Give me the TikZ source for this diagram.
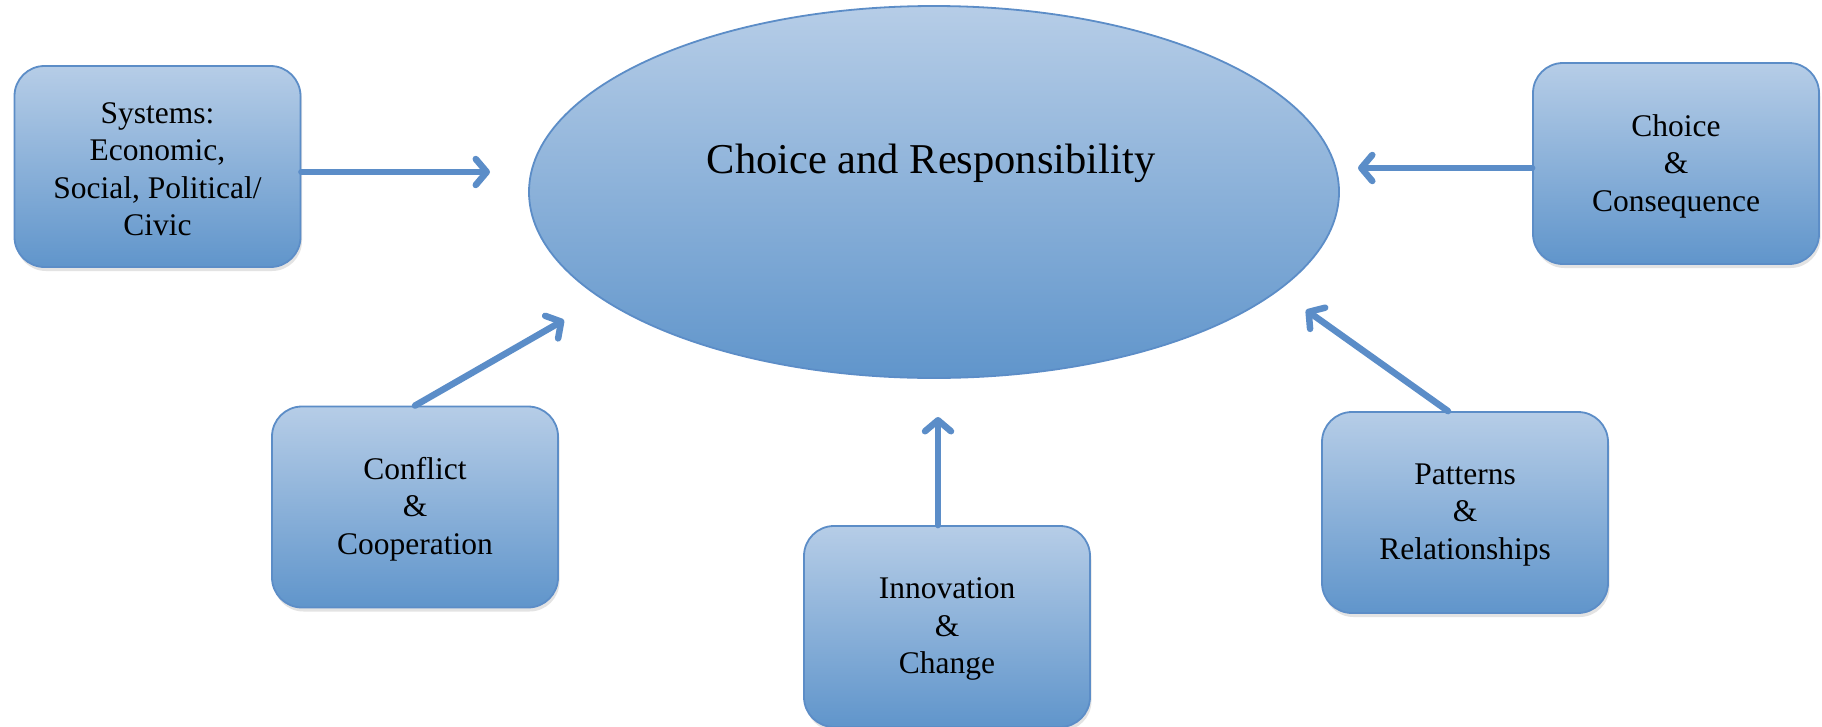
\documentclass[tikz,border=0pt]{standalone}
\usepackage{fontspec}
\setmainfont{Liberation Serif}
\usetikzlibrary{shapes.geometric,shadows,arrows.meta}
\definecolor{cTop}{RGB}{182,205,231}
\definecolor{cBot}{RGB}{96,149,203}
\definecolor{cLine}{RGB}{92,141,199}
\definecolor{cArr}{RGB}{91,141,200}
\tikzset{
  boxshape/.style={draw=cLine, line width=1.8pt, rounded corners=30pt,
    minimum width=286pt, minimum height=201pt, inner sep=0pt,
    top color=cTop, bottom color=cBot,
    drop shadow={shadow xshift=1.5pt, shadow yshift=-4pt, opacity=0.18, fill=black!60}},
  ellshape/.style={ellipse, draw=cLine, line width=1.8pt,
    minimum width=810pt, minimum height=372pt, inner sep=0pt,
    top color=cTop, bottom color=cBot},
  lbl/.style={align=center, font=\fontsize{31.5}{37.5}\selectfont, text=black},
  title/.style={font=\fontsize{42.5}{50}\selectfont, text=black},
  arr/.style={draw=cArr, line width=6.5pt, line cap=round,
    -{Straight Barb[length=11pt,width=26pt,round]}}
}
\begin{document}
\begin{tikzpicture}[x=1pt,y=-1pt]
\clip (0,0) rectangle (1822,726);
\fill[white] (0,0) rectangle (1822,726);
% central ellipse
\node[ellshape] (E) at (934,192) {};
\node[title] (Et) at (931,163) {Choice and Responsibility};
% boxes
\node[boxshape] (sys) at (157.5,166.5) {};
\node[lbl] (syst) at (157.5,169) {Systems:\\Economic,\\Social, Political/\\Civic};
\node[boxshape] (cons) at (1676,163.5) {};
\node[lbl] (const) at (1676,166) {Choice\\\&\\Consequence};
\node[boxshape] (conf) at (415,507) {};
\node[lbl] (conft) at (415,509) {Conflict\\\&\\Cooperation};
\node[boxshape] (inno) at (947,626.5) {};
\node[lbl] (innot) at (947,629) {Innovation\\\&\\Change};
\node[boxshape] (patt) at (1465,512.5) {};
\node[lbl] (pattt) at (1465,515) {Patterns\\\&\\Relationships};
% arrow tips
\coordinate (tsys) at (490,172);
\coordinate (tcons) at (1358,168);
\coordinate (tconf) at (564,320);
\coordinate (tinno) at (938,417);
\coordinate (tpatt) at (1306,310);
% arrows
\draw[arr] ([yshift=-5.5pt]sys.east) -- (tsys);
\draw[arr] ([yshift=-4.5pt]cons.west) -- (tcons);
\draw[arr] (conf.north) -- (tconf);
\draw[arr] ([xshift=-9pt]inno.north) -- (tinno);
\draw[arr] ([xshift=-17pt]patt.north) -- (tpatt);
\end{tikzpicture}
\end{document}
